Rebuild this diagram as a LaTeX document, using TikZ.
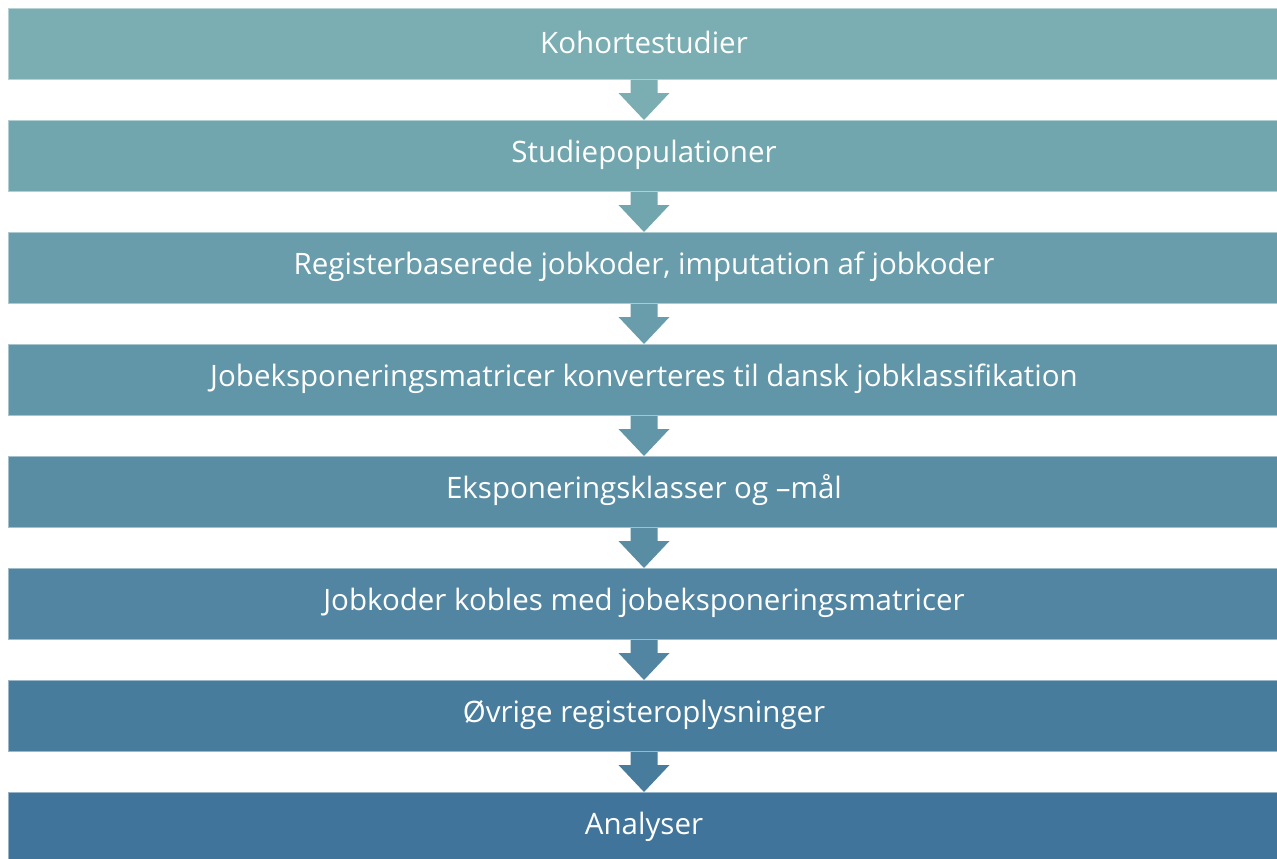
\documentclass[tikz,border=0pt]{standalone}
\usepackage{fontspec}
\setmainfont{Open Sans}
\usetikzlibrary{calc}
\definecolor{cA}{RGB}{122,174,178}
\definecolor{cH}{RGB}{64,116,154}
\colorlet{c1}{cA}
\colorlet{c2}{cH!14.3!cA}
\colorlet{c3}{cH!28.6!cA}
\colorlet{c4}{cH!42.9!cA}
\colorlet{c5}{cH!57.1!cA}
\colorlet{c6}{cH!71.4!cA}
\colorlet{c7}{cH!85.7!cA}
\colorlet{c8}{cH}
\tikzset{
  stagebox/.style={fill=#1, draw=white!45!#1, line width=1pt, minimum width=1271pt, minimum height=71pt,
    inner sep=0pt, anchor=north west, text=white, font=\fontsize{29.5}{34}\selectfont},
  stagetext/.style={text=white, font=\fontsize{29.5}{34}\selectfont, inner sep=0pt},
}
\newcommand{\flowarrow}[3]{%
  \fill[#3] ($(#1.south)+(-13.5,0)$) -- ($(#1.south)+(13.5,0)$) -- ($(#1.south)+(13.5,13)$)
    -- ($(#1.south)+(25.5,13)$) -- (#2.north) -- ($(#1.south)+(-25.5,13)$) -- ($(#1.south)+(-13.5,13)$) -- cycle;}
\begin{document}
\begin{tikzpicture}[x=1pt,y=-1pt]
\useasboundingbox (0,0) rectangle (1277,859);
\clip (0,0) rectangle (1277,859);
\fill[white] (0,0) rectangle (1277,859);
\node[stagebox=c1] (b1) at (8,8) {};
\node[stagebox=c2] (b2) at (8,120) {};
\node[stagebox=c3] (b3) at (8,232) {};
\node[stagebox=c4] (b4) at (8,344) {};
\node[stagebox=c5] (b5) at (8,456) {};
\node[stagebox=c6] (b6) at (8,568) {};
\node[stagebox=c7] (b7) at (8,680) {};
\node[stagebox=c8] (b8) at (8,792) {};
\node[stagetext] (t1) at ($(b1.center)+(0,-1.5)$) {Kohortestudier};
\node[stagetext] (t2) at ($(b2.center)+(0,-1.5)$) {Studiepopulationer};
\node[stagetext] (t3) at ($(b3.center)+(0,-1.5)$) {Registerbaserede jobkoder, imputation af jobkoder};
\node[stagetext] (t4) at ($(b4.center)+(0,-1.5)$) {Jobeksponeringsmatricer konverteres til dansk jobklassifikation};
\node[stagetext] (t5) at ($(b5.center)+(0,-1.5)$) {Eksponeringsklasser og –mål};
\node[stagetext] (t6) at ($(b6.center)+(0,-1.5)$) {Jobkoder kobles med jobeksponeringsmatricer};
\node[stagetext] (t7) at ($(b7.center)+(0,-1.5)$) {Øvrige registeroplysninger};
\node[stagetext] (t8) at ($(b8.center)+(0,-1.5)$) {Analyser};
\flowarrow{b1}{b2}{c1}
\flowarrow{b2}{b3}{c2}
\flowarrow{b3}{b4}{c3}
\flowarrow{b4}{b5}{c4}
\flowarrow{b5}{b6}{c5}
\flowarrow{b6}{b7}{c6}
\flowarrow{b7}{b8}{c7}
\end{tikzpicture}
\end{document}
